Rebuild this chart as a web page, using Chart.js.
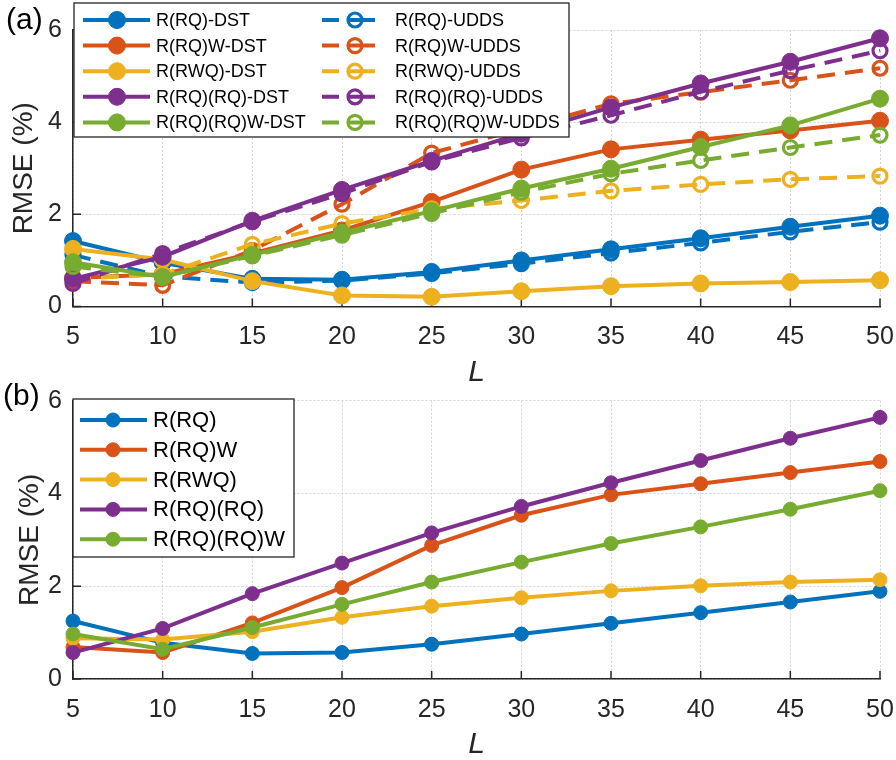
<!DOCTYPE html>
<html>
<head>
<meta charset="utf-8">
<script src="https://cdn.jsdelivr.net/npm/chart.js@4.4.0/dist/chart.umd.min.js"></script>
<style>
html, body { margin: 0; padding: 0; background: #fff; overflow: hidden; }
canvas { position: absolute; left: 0; }
</style>
</head>
<body>
<canvas id="chartA" width="896" height="400" style="top:0px"></canvas>
<canvas id="chartB" width="896" height="400" style="top:360px"></canvas>
<script>
// window length L
const windowLengths = [5, 10, 15, 20, 25, 30, 35, 40, 45, 50]
const modelNames = ['R(RQ)', 'R(RQ)W', 'R(RWQ)', 'R(RQ)(RQ)', 'R(RQ)(RQ)W']

// (a) RMSE (%) under DST
const rq_dst     = [1.42, 0.95, 0.60, 0.58, 0.75, 1.00, 1.24, 1.48, 1.73, 1.97]
const rqw_dst    = [0.62, 0.70, 1.15, 1.65, 2.27, 2.97, 3.41, 3.62, 3.82, 4.03]
const rwq_dst    = [1.25, 1.02, 0.55, 0.24, 0.21, 0.33, 0.44, 0.50, 0.53, 0.57]
const rqrq_dst   = [0.60, 1.08, 1.86, 2.53, 3.16, 3.75, 4.32, 4.84, 5.31, 5.82]
const rqrqw_dst  = [0.96, 0.64, 1.12, 1.60, 2.07, 2.56, 2.99, 3.46, 3.93, 4.51]

// (a) RMSE (%) under UDDS
const rq_udds    = [1.12, 0.65, 0.52, 0.56, 0.72, 0.93, 1.16, 1.38, 1.62, 1.83]
const rqw_udds   = [0.55, 0.46, 1.22, 2.22, 3.33, 3.86, 4.40, 4.65, 4.91, 5.17]
const rwq_udds   = [0.60, 0.70, 1.35, 1.80, 2.12, 2.30, 2.51, 2.65, 2.76, 2.83]
const rqrq_udds  = [0.50, 1.15, 1.84, 2.45, 3.14, 3.66, 4.15, 4.66, 5.12, 5.55]
const rqrqw_udds = [0.87, 0.64, 1.10, 1.55, 2.02, 2.48, 2.88, 3.17, 3.45, 3.72]

// (b) RMSE (%) averaged
const rq_avg     = [1.25, 0.78, 0.55, 0.57, 0.75, 0.97, 1.20, 1.43, 1.66, 1.89]
const rqw_avg    = [0.69, 0.57, 1.21, 1.97, 2.88, 3.53, 3.97, 4.21, 4.45, 4.69]
const rwq_avg    = [0.88, 0.85, 1.02, 1.33, 1.57, 1.75, 1.90, 2.01, 2.09, 2.14]
const rqrq_avg   = [0.57, 1.09, 1.84, 2.50, 3.15, 3.72, 4.23, 4.71, 5.19, 5.64]
const rqrqw_avg  = [0.97, 0.64, 1.11, 1.61, 2.09, 2.52, 2.92, 3.28, 3.66, 4.06]

const modelColors = ['#0072BD', '#D95319', '#EDB120', '#7E2F8E', '#77AC30']
const FONT = 'Arial, "Liberation Sans", Helvetica, sans-serif'
const AXIS_COLOR = '#262626'

function toPoints(values) {
    return windowLengths.map((x, i) => ({ x: x, y: values[i] }))
}

function solidSet(label, values, color, radius, idx) {
    return {
        label: label,
        data: toPoints(values),
        borderColor: color,
        backgroundColor: color,
        borderWidth: 4,
        pointRadius: radius,
        pointBackgroundColor: color,
        pointBorderColor: color,
        pointBorderWidth: 1,
        clip: false,
        order: 20 - idx
    }
}

function dashedSet(label, values, color, idx) {
    return {
        label: label,
        data: toPoints(values),
        borderColor: color,
        backgroundColor: color,
        borderWidth: 4,
        borderDash: [18, 10],
        pointRadius: 7,
        pointBackgroundColor: 'rgba(0,0,0,0)',
        pointBorderColor: color,
        pointBorderWidth: 3.2,
        hollow: true,
        clip: false,
        order: 20 - idx
    }
}

// MATLAB style ticks pointing into the axes
const inwardTicks = {
    id: 'inwardTicks',
    beforeDatasetsDraw(chart) {
        const { ctx, chartArea, scales } = chart
        ctx.save()
        ctx.strokeStyle = AXIS_COLOR
        ctx.lineWidth = 1.5
        ctx.beginPath()
        scales.x.ticks.forEach(t => {
            const px = scales.x.getPixelForValue(t.value)
            ctx.moveTo(px, chartArea.bottom)
            ctx.lineTo(px, chartArea.bottom - 8)
        })
        scales.y.ticks.forEach(t => {
            const py = scales.y.getPixelForValue(t.value)
            ctx.moveTo(chartArea.left, py)
            ctx.lineTo(chartArea.left + 8, py)
        })
        ctx.stroke()
        ctx.restore()
    }
}

// boxed legend, datasets filled column by column
const boxLegend = {
    id: 'boxLegend',
    afterDraw(chart, args, opts) {
        const ctx = chart.ctx
        ctx.save()
        ctx.fillStyle = '#fff'
        ctx.fillRect(opts.x, opts.y, opts.w, opts.h)
        ctx.strokeStyle = AXIS_COLOR
        ctx.lineWidth = 1.3
        ctx.strokeRect(opts.x, opts.y, opts.w, opts.h)
        chart.data.datasets.forEach((ds, i) => {
            const c = opts.columns[Math.floor(i / opts.rows)]
            const cy = opts.firstRow + (i % opts.rows) * opts.rowGap
            ctx.strokeStyle = ds.borderColor
            ctx.lineWidth = ds.borderWidth
            ctx.beginPath()
            if (ds.borderDash) {
                // one dash, the marker, then the rest of the line
                ctx.moveTo(c.lineFrom, cy)
                ctx.lineTo(c.lineFrom + 17, cy)
                ctx.moveTo(c.marker - ds.pointRadius, cy)
                ctx.lineTo(c.lineTo, cy)
            } else {
                ctx.moveTo(c.lineFrom, cy)
                ctx.lineTo(c.lineTo, cy)
            }
            ctx.stroke()
            ctx.beginPath()
            ctx.arc(c.marker, cy, ds.pointRadius, 0, Math.PI * 2)
            if (!ds.hollow) {
                ctx.fillStyle = ds.borderColor
                ctx.fill()
            }
            ctx.lineWidth = ds.pointBorderWidth
            ctx.stroke()
            ctx.fillStyle = '#000'
            ctx.font = opts.font
            ctx.textBaseline = 'middle'
            ctx.textAlign = 'left'
            ctx.fillText(ds.label, c.text, cy + 1)
        })
        ctx.restore()
    }
}

const panelTag = {
    id: 'panelTag',
    afterDraw(chart, args, opts) {
        const ctx = chart.ctx
        ctx.save()
        ctx.fillStyle = '#000'
        ctx.font = '30px ' + FONT
        ctx.textBaseline = 'alphabetic'
        ctx.fillText(opts.text, opts.x, opts.y)
        ctx.restore()
    }
}

function makeOptions(o) {
    return {
        responsive: false,
        animation: false,
        devicePixelRatio: 1,
        layout: { padding: { top: o.top, right: 16, bottom: 0, left: 0 } },
        plugins: {
            legend: { display: false },
            tooltip: { enabled: false },
            boxLegend: o.legend,
            panelTag: o.tag
        },
        scales: {
            x: {
                type: 'linear',
                min: 5,
                max: 50,
                afterFit: s => { s.height = o.xHeight; s.paddingLeft = 0; s.paddingRight = 0 },
                ticks: { stepSize: 5, autoSkip: false, maxRotation: 0, padding: 16, color: AXIS_COLOR, font: { family: FONT, size: 25 } },
                grid: { color: '#d4d4d4', lineWidth: 1, drawTicks: false },
                border: { color: AXIS_COLOR, width: 1.5, dash: [2, 2] },
                title: {
                    display: true, text: 'L', color: AXIS_COLOR,
                    font: { family: FONT, size: 30, style: 'italic', lineHeight: 1 },
                    padding: { top: 0, bottom: o.titleBottom }
                }
            },
            y: {
                min: 0,
                max: 6,
                afterFit: s => { s.width = 73; s.paddingTop = 0; s.paddingBottom = 0 },
                ticks: { stepSize: 2, padding: 11, color: AXIS_COLOR, font: { family: FONT, size: 25 } },
                grid: { color: '#d4d4d4', lineWidth: 1, drawTicks: false },
                border: { color: AXIS_COLOR, width: 1.5, dash: [2, 2] },
                title: {
                    display: true, text: 'RMSE (%)', color: AXIS_COLOR,
                    font: { family: FONT, size: 28, lineHeight: 1 },
                    padding: { top: o.yTitlePad, bottom: 0 }
                }
            }
        }
    }
}

// PANEL (a)
const dstSeries = [rq_dst, rqw_dst, rwq_dst, rqrq_dst, rqrqw_dst]
const uddsSeries = [rq_udds, rqw_udds, rwq_udds, rqrq_udds, rqrqw_udds]
const setsA = []
dstSeries.forEach((v, i) => setsA.push(solidSet(modelNames[i] + '-DST', v, modelColors[i], 8.5, i * 2)))
uddsSeries.forEach((v, i) => setsA.push(dashedSet(modelNames[i] + '-UDDS', v, modelColors[i], i * 2 + 1)))

new Chart(document.getElementById('chartA'), {
    type: 'line',
    data: { datasets: setsA },
    options: makeOptions({
        top: 30,
        xHeight: 93.5,
        titleBottom: 12,
        yTitlePad: 10,
        tag: { text: '(a)', x: 6, y: 29 },
        legend: {
            x: 74, y: 3, w: 495, h: 134,
            rows: 5, firstRow: 20, rowGap: 25.6,
            font: '18px ' + FONT,
            columns: [
                { lineFrom: 83, lineTo: 150, marker: 117, text: 156 },
                { lineFrom: 322, lineTo: 375, marker: 355, text: 395 }
            ]
        }
    }),
    plugins: [inwardTicks, boxLegend, panelTag]
})

// PANEL (b)
const avgSeries = [rq_avg, rqw_avg, rwq_avg, rqrq_avg, rqrqw_avg]
const setsB = avgSeries.map((v, i) => solidSet(modelNames[i], v, modelColors[i], 7, i))

new Chart(document.getElementById('chartB'), {
    type: 'line',
    data: { datasets: setsB },
    options: makeOptions({
        top: 40.7,
        xHeight: 81,
        titleBottom: 0,
        yTitlePad: 16,
        tag: { text: '(b)', x: 3, y: 45 },
        legend: {
            x: 73, y: 39, w: 221, h: 158,
            rows: 5, firstRow: 60, rowGap: 29.8,
            font: '22px ' + FONT,
            columns: [
                { lineFrom: 80, lineTo: 147, marker: 113, text: 153 }
            ]
        }
    }),
    plugins: [inwardTicks, boxLegend, panelTag]
})
</script>
</body>
</html>
